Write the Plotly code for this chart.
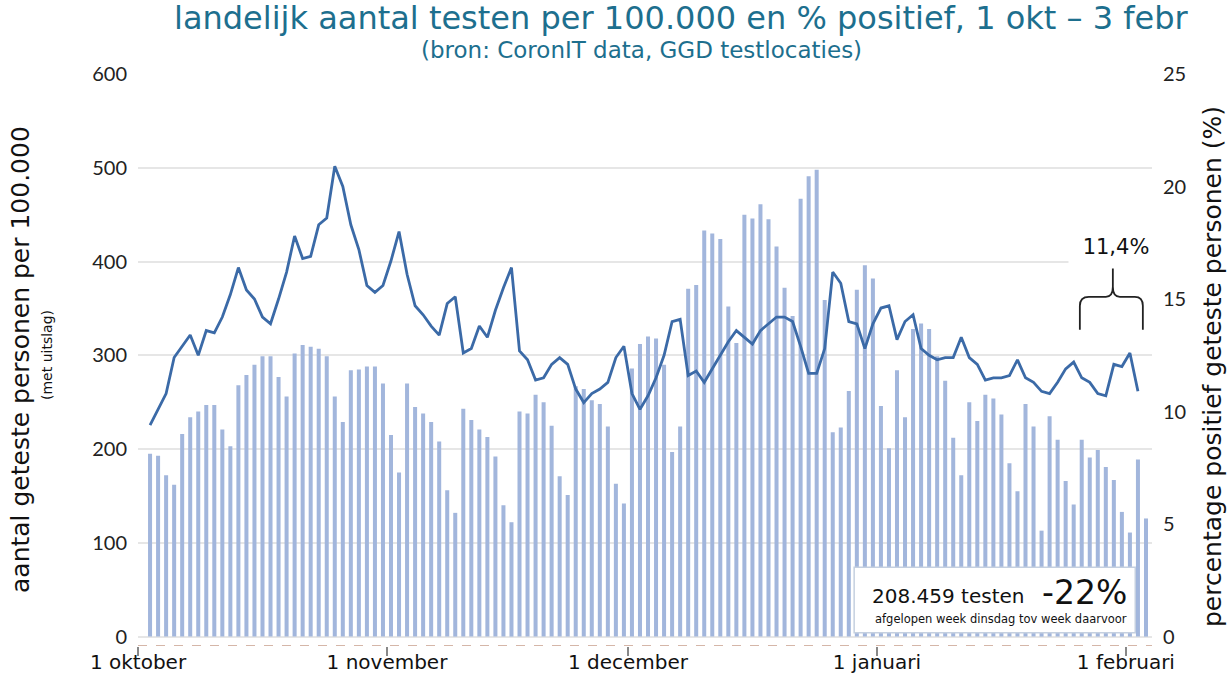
import plotly.graph_objects as go
import pandas as pd

# ---------------- data ----------------
tests_per_100k = [
    195, 193, 172, 162, 216, 234, 240, 247, 247, 221, 203, 268, 279, 290, 299, 299, 277, 256, 302, 311,
    309, 307, 299, 256, 229, 284, 285, 288, 288, 270, 215, 175, 270, 245, 238, 229, 208, 156, 132, 243,
    231, 221, 213, 192, 140, 122, 240, 238, 258, 250, 225, 171, 151, 267, 264, 252, 248, 224, 163, 142,
    286, 312, 320, 318, 290, 197, 224, 371, 375, 433, 430, 424, 352, 313, 450, 446, 461, 445, 416, 372,
    342, 467, 491, 498, 359, 218, 223, 262, 370, 396, 382, 246, 201, 284, 234, 328, 334, 328, 299, 273,
    212, 172, 250, 230, 258, 254, 237, 185, 155, 248, 224, 113, 235, 210, 166, 141, 210, 191, 199, 181,
    167, 133, 111, 189, 126,
]
pct_positive = [
    9.4, 10.1, 10.8, 12.4, 12.9, 13.4, 12.5, 13.6, 13.5, 14.2, 15.2, 16.4, 15.4, 15.0, 14.2, 13.9, 15.0, 16.2, 17.8, 16.8,
    16.9, 18.3, 18.6, 20.9, 20.0, 18.3, 17.2, 15.6, 15.3, 15.6, 16.7, 18.0, 16.1, 14.7, 14.3, 13.8, 13.4, 14.8, 15.1, 12.6,
    12.8, 13.8, 13.3, 14.5, 15.5, 16.4, 12.7, 12.3, 11.4, 11.5, 12.1, 12.4, 12.1, 11.0, 10.4, 10.8, 11.0, 11.3, 12.4, 12.9,
    10.8, 10.1, 10.7, 11.5, 12.5, 14.0, 14.1, 11.6, 11.8, 11.3, 11.9, 12.5, 13.1, 13.6, 13.3, 13.0, 13.6, 13.9, 14.2, 14.2,
    14.0, 12.9, 11.7, 11.7, 12.8, 16.2, 15.7, 14.0, 13.9, 12.8, 13.9, 14.6, 14.7, 13.2, 14.0, 14.3, 12.8, 12.5, 12.3, 12.4,
    12.4, 13.3, 12.4, 12.1, 11.4, 11.5, 11.5, 11.6, 12.3, 11.5, 11.3, 10.9, 10.8, 11.3, 11.9, 12.2, 11.5, 11.3, 10.8, 10.7,
    12.1, 12.0, 12.6, 10.9,
]
bar_dates = pd.date_range("2020-10-02", periods=len(tests_per_100k), freq="D")
line_dates = bar_dates[:len(pct_positive)]

month_ticks = ["2020-10-01", "2020-11-01", "2020-12-01", "2021-01-01", "2021-02-01"]
month_labels = ["1 oktober", "1 november", "1 december", "1 januari", "1 februari"]
left_ticks = [0, 100, 200, 300, 400, 500, 600]
right_ticks = [0, 5, 10, 15, 20, 25]

title_text = "landelijk aantal testen per 100.000 en % positief, 1 okt \u2013 3 febr"
subtitle_text = "(bron: CoronIT data, GGD testlocaties)"
box_tests = "208.459 testen"
box_change = "-22%"
box_note = "afgelopen week dinsdag tov week daarvoor"
last_week_pct = "11,4%"

# ---------------- layout geometry (pixels) ----------------
W, H = 1231, 677
L, R, T, B = 138, 79, 74, 31
PW, PH = W - L - R, H - T - B


def px(xp):
    return (xp - L) / PW


def py(yp):
    return (H - B - yp) / PH


TEAL = "#1d6f8e"
BAR = "#a2b6dc"
LINE = "#3b6aa7"

fig = go.Figure()
fig.add_trace(go.Bar(
    x=bar_dates, y=tests_per_100k, name="testen per 100.000",
    marker=dict(color=BAR, line=dict(width=0)),
    xperiod=86400000, xperiodalignment="middle",
    yaxis="y",
))
fig.add_trace(go.Scatter(
    x=line_dates, y=pct_positive, name="% positief", mode="lines",
    line=dict(color=LINE, width=2.8),
    xperiod=86400000, xperiodalignment="middle",
    yaxis="y2",
))

fig.update_layout(
    width=W, height=H,
    margin=dict(l=L, r=R, t=T, b=B, autoexpand=False),
    paper_bgcolor="white", plot_bgcolor="white",
    showlegend=False,
    bargap=0.5,
    font=dict(family="DejaVu Sans", color="#222"),
    xaxis=dict(
        type="date", automargin=False,
        range=["2020-10-01", "2021-02-04 06:00"],
        tickvals=month_ticks, ticktext=month_labels,
        ticks="outside", ticklen=9, tickwidth=1.5, tickcolor="#888",
        tickfont=dict(family="DejaVu Sans", size=20, color="#111"),
        ticklabelstandoff=-11,
        showgrid=False, showline=False, zeroline=False,
    ),
    yaxis=dict(
        automargin=False,
        range=[-10, 600], tickvals=left_ticks,
        showgrid=True, gridcolor="#e6e6e6", gridwidth=1.5,
        zeroline=False, showline=False, ticks="",
        tickfont=dict(family="Lato", size=20, color="#222"),
        ticklabelstandoff=10,
    ),
    yaxis2=dict(
        automargin=False,
        range=[-10 / 24, 25], tickvals=right_ticks,
        overlaying="y", side="right",
        showgrid=False, zeroline=False, showline=False, ticks="",
        tickfont=dict(family="Lato", size=20, color="#222"),
        ticklabelstandoff=10,
    ),
)

# dashed base line
fig.add_shape(type="line", xref="paper", x0=0, x1=1, yref="y", y0=-10, y1=-10,
              line=dict(color="#c79e8c", width=1.5, dash="dash"), layer="above")

# info box
fig.add_shape(type="rect", xref="x", yref="y",
              x0="2020-12-29 04:00", x1="2021-02-02 04:00", y0=4, y1=74,
              fillcolor="white", line=dict(color="#c5d0e0", width=1.5), layer="above")
fig.add_annotation(x="2020-12-31 03:00", y=43, xref="x", yref="y", text=box_tests,
                   showarrow=False, xanchor="left", yanchor="middle",
                   font=dict(family="DejaVu Sans", size=20, color="#111"))
fig.add_annotation(x="2021-02-01 09:00", y=47, xref="x", yref="y", text=box_change,
                   showarrow=False, xanchor="right", yanchor="middle",
                   font=dict(family="DejaVu Sans", size=33, color="#111"))
fig.add_annotation(x="2021-01-16 12:00", y=19, xref="x", yref="y", text=box_note,
                   showarrow=False, xanchor="center", yanchor="middle",
                   font=dict(family="DejaVu Sans", size=11.5, color="#111"))

# last-week annotation with brace
fig.add_annotation(x="2021-01-30 18:00", y=17.3, xref="x", yref="y2", text=last_week_pct,
                   showarrow=False, xanchor="center", yanchor="middle",
                   bgcolor="white", width=92, height=40,
                   font=dict(family="DejaVu Sans", size=21, color="#111"))
fig.add_shape(type="path", xref="x", yref="y2",
              xsizemode="pixel", ysizemode="pixel",
              xanchor="2021-01-30 09:00", yanchor=15.1,
              path=("M -33,-33 L -33,-9 Q -33,0 -24,0 L -7,0 Q 0,0 0,10 L 0,31 "
                    "M 0,10 Q 0,0 7,0 L 22,0 Q 30,0 30,-9 L 30,-33"),
              line=dict(color="#222", width=1.8), layer="above")

# titles
fig.add_annotation(x=px(681), y=py(18), xref="paper", yref="paper", text=title_text,
                   showarrow=False, xanchor="center", yanchor="middle",
                   font=dict(family="DejaVu Sans", size=32, color=TEAL))
fig.add_annotation(x=px(641), y=py(50), xref="paper", yref="paper", text=subtitle_text,
                   showarrow=False, xanchor="center", yanchor="middle",
                   font=dict(family="DejaVu Sans", size=23, color=TEAL))
fig.add_annotation(x=px(20), y=py(360), xref="paper", yref="paper",
                   text="aantal geteste personen per 100.000", textangle=-90,
                   showarrow=False, xanchor="center", yanchor="middle",
                   font=dict(family="DejaVu Sans", size=25, color="#111"))
fig.add_annotation(x=px(47), y=py(355), xref="paper", yref="paper",
                   text="(met uitslag)", textangle=-90,
                   showarrow=False, xanchor="center", yanchor="middle",
                   font=dict(family="DejaVu Sans", size=14, color="#111"))
fig.add_annotation(x=px(1212), y=py(367), xref="paper", yref="paper",
                   text="percentage positief geteste personen (%)", textangle=-90,
                   showarrow=False, xanchor="center", yanchor="middle",
                   font=dict(family="DejaVu Sans", size=25, color="#111"))

fig.write_html("out.html", config={"displayModeBar": False},
               post_script="document.body.style.margin='0px';")
